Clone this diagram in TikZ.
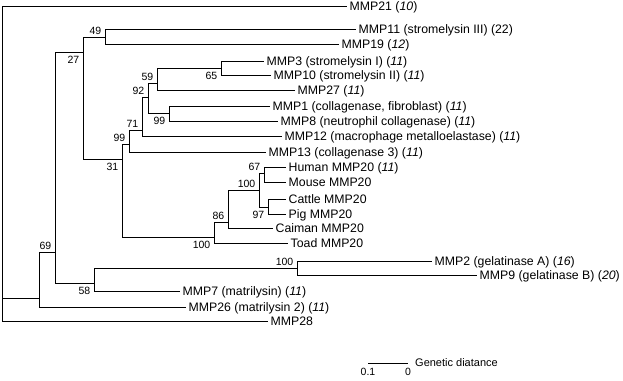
\documentclass[tikz,border=0pt]{standalone}
\usepackage{fontspec}
\setmainfont{Liberation Sans}
\usetikzlibrary{positioning}
\newcommand{\nseq}[1]{(\textit{#1})}

\begin{document}
\begin{tikzpicture}[
  x=1pt, y=-1pt,
  branch/.style={draw=black, line width=0.9pt},
  leaf/.style={anchor=west, inner xsep=2.5pt, inner ysep=0pt,
               font=\fontsize{12.3}{14}\selectfont, text height=8.8pt, text depth=0pt},
  bootup/.style={anchor=south east, inner xsep=3.5pt, inner ysep=2pt,
                 font=\fontsize{10.5}{12}\selectfont},
  bootdown/.style={anchor=north east, inner xsep=3.5pt, inner ysep=3.5pt,
                   font=\fontsize{10.5}{12}\selectfont},
  scalelab/.style={inner sep=0pt, font=\fontsize{10.5}{12}\selectfont},
]
  \useasboundingbox (0,0) rectangle (623,380);

  % Internal nodes (x of the split, y where the parent branch enters)
  \coordinate (root) at (2,6);
  \coordinate (c0) at (39,298);
  \coordinate (c69) at (55,252);
  \coordinate (c27) at (83,52);
  \coordinate (c49) at (105,37);
  \coordinate (c31) at (122,159);
  \coordinate (c99b) at (129,144);
  \coordinate (c71) at (142,130);
  \coordinate (c92) at (148,97);
  \coordinate (c59) at (157,83);
  \coordinate (c65) at (221,68);
  \coordinate (c99a) at (169,113);
  \coordinate (c100b) at (214,237);
  \coordinate (c86) at (228,222);
  \coordinate (c100a) at (259,190);
  \coordinate (c67) at (264,173);
  \coordinate (c97) at (268,207);
  \coordinate (c58) at (94,283);
  \coordinate (c100c) at (297,268);

  % Leaves
  \node[leaf] (mmp21) at (347,6) {MMP21 \nseq{10}};
  \node[leaf] (mmp11) at (356,29) {MMP11 (stromelysin III) (22)};
  \node[leaf] (mmp19) at (339,44) {MMP19 \nseq{12}};
  \node[leaf] (mmp3) at (264,61) {MMP3 (stromelysin I) \nseq{11}};
  \node[leaf] (mmp10) at (271,75) {MMP10 (stromelysin II) \nseq{11}};
  \node[leaf] (mmp27) at (295,90) {MMP27 \nseq{11}};
  \node[leaf] (mmp1) at (270,106) {MMP1 (collagenase, fibroblast) \nseq{11}};
  \node[leaf] (mmp8) at (278,121) {MMP8 (neutrophil collagenase) \nseq{11}};
  \node[leaf] (mmp12) at (282,136) {MMP12 (macrophage metalloelastase) \nseq{11}};
  \node[leaf] (mmp13) at (266,152) {MMP13 (collagenase 3) \nseq{11}};
  \node[leaf] (human) at (286,167) {Human MMP20 \nseq{11}};
  \node[leaf] (mouse) at (286,182) {Mouse MMP20};
  \node[leaf] (cattle) at (286,199) {Cattle MMP20};
  \node[leaf] (pig) at (286,214) {Pig MMP20};
  \node[leaf] (caiman) at (273,228) {Caiman MMP20};
  \node[leaf] (toad) at (288,243) {Toad MMP20};
  \node[leaf] (mmp2) at (432,261) {MMP2 (gelatinase A) \nseq{16}};
  \node[leaf] (mmp9) at (477,275) {MMP9 (gelatinase B) \nseq{20}};
  \node[leaf] (mmp7) at (180,291) {MMP7 (matrilysin) \nseq{11}};
  \node[leaf] (mmp26) at (186,307) {MMP26 (matrilysin 2) \nseq{11}};
  \node[leaf] (mmp28) at (268,321) {MMP28};

  % Branches
  \draw[branch] (root) |- (mmp21.west) (root) |- (c0) (root) |- (mmp28.west);
  \draw[branch] (c0) |- (c69) (c0) |- (mmp26.west);
  \draw[branch] (c69) |- (c27) (c69) |- (c58);
  \draw[branch] (c27) |- (c49) (c27) |- (c31);
  \draw[branch] (c49) |- (mmp11.west) (c49) |- (mmp19.west);
  \draw[branch] (c31) |- (c99b) (c31) |- (c100b);
  \draw[branch] (c99b) |- (c71) (c99b) |- (mmp13.west);
  \draw[branch] (c71) |- (c92) (c71) |- (mmp12.west);
  \draw[branch] (c92) |- (c59) (c92) |- (c99a);
  \draw[branch] (c59) |- (c65) (c59) |- (mmp27.west);
  \draw[branch] (c65) |- (mmp3.west) (c65) |- (mmp10.west);
  \draw[branch] (c99a) |- (mmp1.west) (c99a) |- (mmp8.west);
  \draw[branch] (c100b) |- (c86) (c100b) |- (toad.west);
  \draw[branch] (c86) |- (c100a) (c86) |- (caiman.west);
  \draw[branch] (c100a) |- (c67) (c100a) |- (c97);
  \draw[branch] (c67) |- (human.west) (c67) |- (mouse.west);
  \draw[branch] (c97) |- (cattle.west) (c97) |- (pig.west);
  \draw[branch] (c58) |- (c100c) (c58) |- (mmp7.west);
  \draw[branch] (c100c) |- (mmp2.west) (c100c) |- (mmp9.west);

  % Bootstrap values
  \node[bootup] (l49) at (c49) {49};
  \node[bootdown] (l27) at (c27) {27};
  \node[bootdown] (l65) at (c65) {65};
  \node[bootup] (l59) at (c59) {59};
  \node[bootup] (l92) at (c92) {92};
  \node[bootdown] (l99a) at (c99a) {99};
  \node[bootup] (l71) at (c71) {71};
  \node[bootup] (l99b) at (c99b) {99};
  \node[bootdown] (l31) at (c31) {31};
  \node[bootup] (l67) at (c67) {67};
  \node[bootup] (l100a) at (c100a) {100};
  \node[bootdown] (l97) at (c97) {97};
  \node[bootup] (l86) at (c86) {86};
  \node[bootdown] (l100b) at (c100b) {100};
  \node[bootup] (l69) at (c69) {69};
  \node[bootdown] (l58) at (c58) {58};
  \node[bootup] (l100c) at (c100c) {100};

  % Scale bar
  \coordinate (sbL) at (368,363);
  \coordinate (sbR) at (408,363);
  \draw[branch] (sbL) -- (sbR);
  \node[scalelab, below=5pt of sbL] (s01) {0.1};
  \node[scalelab, below=5pt of sbR] (s0) {0};
  \node[scalelab, right=7pt of sbR, font=\fontsize{11}{13}\selectfont] (sgd) {Genetic diatance};
\end{tikzpicture}
\end{document}
